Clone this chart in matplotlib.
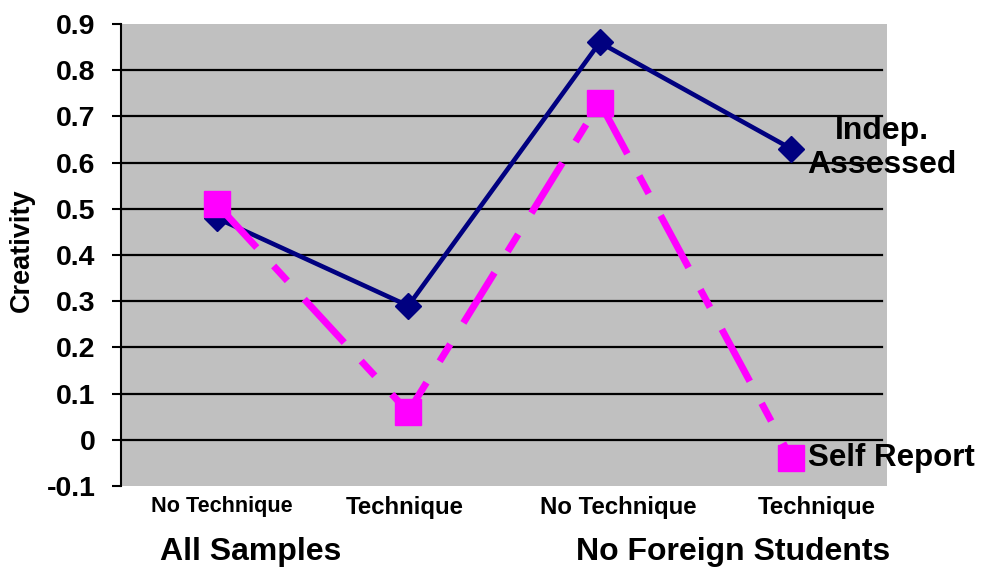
import matplotlib
matplotlib.use("Agg")
import matplotlib.pyplot as plt
from matplotlib.transforms import ScaledTranslation

categories = ["No Technique", "Technique", "No Technique", "Technique"]
groups = ["All Samples", "No Foreign Students"]
indep_assessed = [0.48, 0.29, 0.86, 0.63]
self_report = [0.51, 0.06, 0.73, -0.04]
yticks = [-0.1, 0, 0.1, 0.2, 0.3, 0.4, 0.5, 0.6, 0.7, 0.8, 0.9]
ytick_labels = ["-0.1", "0", "0.1", "0.2", "0.3", "0.4", "0.5", "0.6", "0.7", "0.8", "0.9"]

plt.rcParams['font.family'] = ['Liberation Sans', 'DejaVu Sans']
plt.rcParams['font.weight'] = 'bold'

fig = plt.figure(figsize=(9.82, 5.70), dpi=100)
ax = fig.add_axes([121/982, 1-486/570, (887-121)/982, (486-24)/570])
ax.set_facecolor('#C0C0C0')

x = list(range(len(categories)))
ax.set_xlim(-0.5, 3.5)
ax.set_ylim(-0.1, 0.9)

for g in yticks:
    if 0 <= g <= 0.8 + 1e-9:
        ax.axhline(g, color='black', lw=1.6, xmax=(882-121)/(887-121), zorder=1)

ax.plot(x, indep_assessed, color='#000080', lw=3.3, marker='D', markersize=13,
        zorder=3)
ax.plot(x, self_report, color='#FF00FF', lw=5, ls=(0, (8.5, 3.6, 2.9, 3.6)),
        marker='s', markersize=19, zorder=4)

ax.annotate("Indep.\nAssessed", xy=(882/982, 1-148/570), xycoords='figure fraction',
            ha='center', va='center', fontsize=23, fontweight='bold',
            linespacing=1.2, annotation_clip=False)
ax.annotate("Self Report", xy=(808/982, 1-458/570), xycoords='figure fraction',
            ha='left', va='center', fontsize=22.5, fontweight='bold',
            annotation_clip=False)

ax.set_yticks(yticks)
ax.set_yticklabels(ytick_labels, fontsize=20.5, fontweight='bold')
ax.tick_params(axis='y', direction='out', length=6.5, width=1.5, pad=12)
ax.set_xticks(x)
ax.set_xticklabels(categories, fontweight='bold')
ax.tick_params(axis='x', length=0, pad=7)
label_sizes = [15.6, 17.3, 17.3, 17.3]
label_shift_px = [5, -3, 19, 25]
for lab, fs, dx in zip(ax.get_xticklabels(), label_sizes, label_shift_px):
    lab.set_fontsize(fs)
    lab.set_transform(lab.get_transform() + ScaledTranslation(dx/100, 0, fig.dpi_scale_trans))

for s in ['top', 'right', 'bottom']:
    ax.spines[s].set_visible(False)
ax.spines['left'].set_linewidth(1.5)

fig.text(22/982, 1-250/570, "Creativity", rotation=90, ha='center', va='center',
         fontsize=19.5, fontweight='bold')

fig.text(251/982, 1-552/570, groups[0], ha='center', va='center',
         fontsize=23, fontweight='bold')
fig.text(733/982, 1-552/570, groups[1], ha='center', va='center',
         fontsize=23, fontweight='bold')

fig.savefig("out.png", dpi=100)
